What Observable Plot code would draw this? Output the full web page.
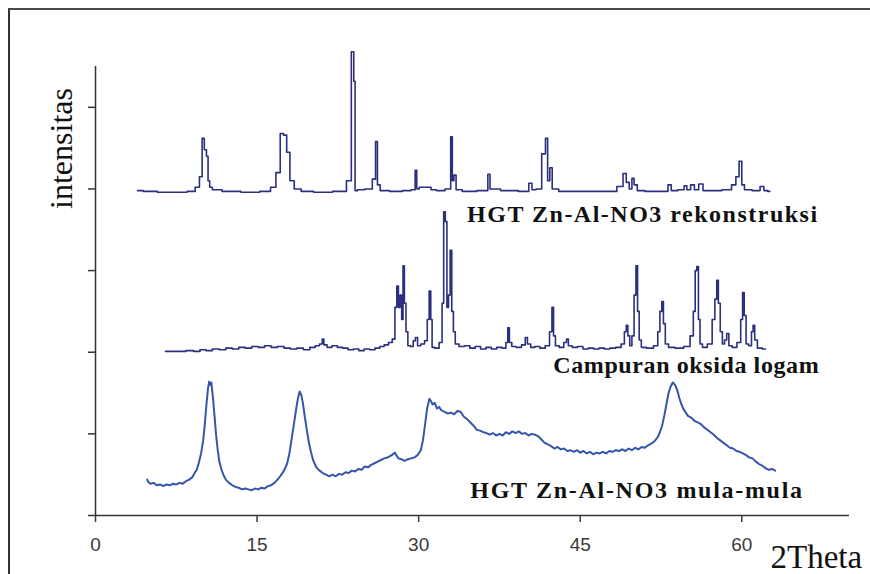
<!DOCTYPE html>
<html>
<head>
<meta charset="utf-8">
<script src="https://cdn.jsdelivr.net/npm/d3@7"></script>
<script src="https://cdn.jsdelivr.net/npm/@observablehq/plot@0.6"></script>
<style>
  html, body { margin: 0; padding: 0; background: #fff; }
  #wrap { position: relative; width: 870px; height: 574px; overflow: hidden; }
  #frame { position: absolute; left: 8px; top: 8px; right: -4px; bottom: -4px;
           border-top: 2px solid #4a4a4a; border-left: 2px solid #333; pointer-events: none; }
  #wrap svg { position: absolute; left: 0; top: 0; }
</style>
</head>
<body>
<div id="wrap"><div id="frame"></div></div>
<script>
// x ticks (2Theta) and y ticks (intensitas, unlabeled)
const xTicks = [0, 15, 30, 45, 60];
const yTicks = [0, 1, 2, 3, 4, 5];

// HGT Zn-Al-NO3 rekonstruksi  [2theta, intensity]
const rekonstruksi = [
  [3.9,3.98],[5.0,3.97],[6.5,3.96],[8.0,3.96],[9.0,3.97],[9.5,4.02],[9.8,4.15],[10.0,4.62],[10.2,4.48],
  [10.4,4.40],[10.5,4.10],[10.7,4.02],[11.0,3.99],[12.5,3.97],[14.5,3.96],[16.0,3.97],[16.5,4.02],
  [17.0,4.20],[17.3,4.68],[17.6,4.66],[17.9,4.45],[18.2,4.10],[18.7,4.00],[19.5,3.97],[21.0,3.96],
  [23.0,3.97],[23.6,4.10],[23.9,5.68],[24.05,5.32],[24.15,3.98],[24.5,3.99],[25.5,4.00],[25.9,4.12],
  [26.1,4.58],[26.25,4.05],[26.6,3.98],[28.0,3.97],[29.0,3.98],[29.6,3.99],[29.75,4.23],[29.9,4.00],
  [30.2,4.02],[31.0,4.02],[31.3,3.99],[32.0,3.98],[32.9,4.00],[33.05,4.64],[33.2,4.10],[33.35,4.17],
  [33.6,3.99],[34.5,3.97],[36.3,3.98],[36.55,4.18],[36.7,4.00],[38.5,3.98],[40.0,3.97],[40.45,4.07],
  [40.6,3.99],[41.2,4.00],[41.65,4.43],[41.9,4.62],[42.05,4.10],[42.3,4.26],[42.5,4.00],[43.5,3.97],
  [48.0,3.97],[48.8,4.03],[49.15,4.19],[49.4,4.08],[49.7,4.00],[49.9,4.13],[50.1,4.05],[50.5,3.98],
  [51.5,3.97],[53.0,3.97],[53.3,4.05],[53.6,3.98],[54.5,3.99],[54.8,4.04],[55.0,3.99],[55.5,4.05],
  [55.7,3.99],[56.3,4.06],[56.5,3.98],[57.5,3.98],[58.8,3.99],[59.3,4.05],[59.6,4.15],[59.9,4.34],
  [60.1,4.05],[60.4,3.99],[61.5,3.98],[61.9,4.03],[62.2,3.98],[62.6,3.97]
];

// Campuran oksida logam
const campuran = [
  [6.5,2.01],[8.0,2.01],[8.8,2.02],[9.4,2.01],[10.0,2.03],[10.5,2.02],[11.2,2.04],[11.8,2.03],[12.4,2.05],
  [13.0,2.04],[13.6,2.06],[14.2,2.05],[14.8,2.07],[15.4,2.06],[16.0,2.08],[16.6,2.06],[17.2,2.07],
  [17.8,2.05],[18.4,2.04],[19.0,2.05],[19.6,2.03],[20.2,2.06],[20.6,2.08],[21.0,2.10],[21.1,2.16],
  [21.3,2.09],[21.7,2.06],[22.2,2.08],[22.7,2.06],[23.2,2.05],[23.7,2.03],[24.2,2.04],[24.7,2.02],
  [25.2,2.04],[25.7,2.03],[26.2,2.05],[26.6,2.07],[27.0,2.09],[27.4,2.12],[27.7,2.16],[27.9,2.55],
  [28.05,2.81],[28.2,2.55],[28.35,2.70],[28.5,2.40],[28.6,3.06],[28.75,2.60],[28.9,2.25],[29.1,2.08],
  [29.4,2.07],[29.6,2.14],[29.8,2.18],[30.0,2.08],[30.4,2.10],[30.7,2.14],[30.9,2.40],[31.05,2.75],
  [31.2,2.40],[31.3,2.06],[31.7,2.05],[32.1,2.12],[32.25,2.60],[32.4,3.72],[32.55,3.60],[32.7,2.55],
  [32.85,2.70],[33.0,3.25],[33.15,2.50],[33.3,2.25],[33.5,2.10],[34.0,2.07],[34.5,2.08],[35.0,2.05],
  [35.5,2.07],[36.0,2.04],[36.5,2.06],[37.0,2.04],[37.5,2.06],[38.0,2.05],[38.2,2.12],[38.35,2.30],
  [38.5,2.12],[38.8,2.07],[39.3,2.06],[39.8,2.09],[40.0,2.18],[40.2,2.10],[40.6,2.06],[41.0,2.07],
  [41.5,2.05],[42.0,2.08],[42.3,2.25],[42.45,2.55],[42.6,2.20],[42.8,2.08],[43.3,2.06],[43.65,2.12],
  [43.8,2.16],[44.0,2.08],[44.5,2.06],[45.0,2.07],[45.5,2.04],[46.0,2.05],[46.5,2.04],[47.0,2.05],
  [47.5,2.04],[48.0,2.05],[48.6,2.06],[49.0,2.10],[49.2,2.25],[49.35,2.33],[49.5,2.20],[49.7,2.08],
  [49.9,2.20],[50.1,2.70],[50.25,3.06],[50.4,2.50],[50.55,2.15],[50.8,2.06],[51.5,2.05],[52.1,2.08],
  [52.3,2.25],[52.5,2.50],[52.65,2.62],[52.8,2.35],[53.0,2.10],[53.4,2.06],[54.2,2.05],[55.0,2.07],
  [55.4,2.20],[55.6,2.50],[55.75,3.00],[55.9,3.05],[56.05,2.40],[56.2,2.10],[56.5,2.06],[57.1,2.10],
  [57.4,2.40],[57.6,2.65],[57.75,2.88],[57.9,2.60],[58.1,2.25],[58.3,2.10],[58.5,2.15],[58.7,2.23],
  [58.9,2.08],[59.3,2.06],[59.8,2.12],[60.0,2.40],[60.15,2.73],[60.3,2.45],[60.5,2.10],[60.8,2.08],
  [61.0,2.25],[61.1,2.33],[61.3,2.15],[61.6,2.05],[62.2,2.04]
];

// HGT Zn-Al-NO3 mula-mula
const mulaMula = [
  [4.8,0.44],[4.9,0.41],[5.1,0.39],[5.4,0.40],[5.7,0.37],[6.0,0.38],[6.3,0.36],[6.6,0.38],[6.9,0.37],
  [7.2,0.39],[7.5,0.38],[7.8,0.40],[8.1,0.39],[8.4,0.42],[8.7,0.44],[9.0,0.47],[9.2,0.52],[9.4,0.56],
  [9.6,0.65],[9.8,0.76],[10.0,0.92],[10.15,1.12],[10.3,1.36],[10.45,1.56],[10.55,1.64],[10.65,1.60],
  [10.75,1.63],[10.9,1.45],[11.05,1.22],[11.2,0.98],[11.35,0.80],[11.5,0.66],[11.7,0.56],[11.9,0.49],
  [12.1,0.44],[12.4,0.40],[12.7,0.37],[13.0,0.35],[13.3,0.34],[13.6,0.32],[13.9,0.33],[14.2,0.32],
  [14.5,0.31],[14.8,0.33],[15.1,0.32],[15.4,0.34],[15.7,0.33],[16.0,0.36],[16.3,0.37],[16.6,0.40],
  [16.9,0.44],[17.2,0.49],[17.5,0.55],[17.8,0.64],[18.0,0.76],[18.2,0.93],[18.4,1.10],[18.6,1.28],
  [18.8,1.44],[18.95,1.52],[19.1,1.48],[19.25,1.38],[19.4,1.24],[19.6,1.06],[19.8,0.90],[20.0,0.78],
  [20.2,0.68],[20.5,0.59],[20.8,0.55],[21.1,0.52],[21.4,0.50],[21.7,0.48],[22.0,0.50],[22.3,0.48],
  [22.6,0.51],[22.9,0.50],[23.2,0.53],[23.5,0.52],[23.8,0.55],[24.1,0.54],[24.4,0.57],[24.7,0.56],
  [25.0,0.60],[25.3,0.59],[25.6,0.62],[25.9,0.64],[26.2,0.66],[26.5,0.68],[26.8,0.70],[27.1,0.71],
  [27.5,0.74],[27.8,0.77],[28.1,0.70],[28.4,0.69],[28.7,0.67],[29.0,0.69],[29.3,0.70],[29.6,0.71],
  [29.9,0.74],[30.2,0.80],[30.4,0.92],[30.6,1.12],[30.8,1.32],[31.0,1.43],[31.15,1.40],[31.3,1.36],
  [31.5,1.38],[31.7,1.31],[31.9,1.33],[32.1,1.29],[32.4,1.27],[32.7,1.25],[33.0,1.26],[33.3,1.24],
  [33.6,1.28],[33.9,1.27],[34.2,1.21],[34.5,1.18],[34.8,1.14],[35.1,1.10],[35.4,1.05],[35.7,1.04],
  [36.0,1.02],[36.3,1.01],[36.6,0.99],[36.9,1.01],[37.2,0.98],[37.5,1.00],[37.8,0.98],[38.1,1.02],
  [38.4,1.00],[38.7,1.03],[39.0,1.01],[39.3,1.03],[39.6,1.00],[39.9,1.01],[40.2,0.98],[40.5,1.00],
  [40.8,0.99],[41.1,0.97],[41.4,0.93],[41.7,0.89],[42.0,0.87],[42.3,0.85],[42.6,0.82],[42.9,0.84],
  [43.2,0.81],[43.5,0.82],[43.8,0.79],[44.1,0.80],[44.4,0.78],[44.7,0.80],[45.0,0.77],[45.3,0.79],
  [45.6,0.76],[45.9,0.78],[46.2,0.75],[46.5,0.77],[46.8,0.76],[47.1,0.78],[47.4,0.76],[47.7,0.79],
  [48.0,0.78],[48.3,0.80],[48.6,0.79],[48.9,0.81],[49.2,0.79],[49.5,0.82],[49.8,0.80],[50.1,0.83],
  [50.4,0.81],[50.7,0.84],[51.0,0.83],[51.3,0.86],[51.6,0.88],[51.9,0.91],[52.2,0.96],[52.4,1.02],
  [52.6,1.10],[52.8,1.22],[53.0,1.36],[53.2,1.50],[53.4,1.58],[53.6,1.63],[53.8,1.60],[54.0,1.54],
  [54.2,1.44],[54.4,1.36],[54.6,1.30],[54.8,1.26],[55.0,1.22],[55.3,1.20],[55.6,1.16],[55.9,1.14],
  [56.2,1.12],[56.5,1.08],[56.8,1.05],[57.1,1.02],[57.4,0.99],[57.7,0.95],[58.0,0.92],[58.3,0.89],
  [58.6,0.86],[58.9,0.83],[59.2,0.82],[59.5,0.79],[59.8,0.78],[60.1,0.76],[60.4,0.74],[60.7,0.71],
  [61.0,0.70],[61.3,0.66],[61.6,0.63],[61.9,0.61],[62.2,0.58],[62.5,0.56],[62.8,0.57],[63.1,0.55]
];

// series labels: [x, y, text]
const seriesLabels = [
  [34.5, 3.60, "HGT Zn-Al-NO3 rekonstruksi"],
  [42.5, 1.74, "Campuran oksida logam"],
  [34.8, 0.22, "HGT Zn-Al-NO3 mula-mula"]
];
const labelSpacing = ["1.5px", "0.6px", "1.7px"];

const serif = "'Liberation Serif', 'Times New Roman', serif";
const axisColor = "#333";

const chart = Plot.plot({
  width: 870,
  height: 574,
  marginLeft: 95,
  marginRight: 21,
  marginTop: 66,
  marginBottom: 59,
  style: { background: "transparent", overflow: "visible" },
  x: { domain: [0, 70] },
  y: { domain: [0, 5.5] },
  marks: [
    Plot.ruleY([0], { stroke: axisColor, strokeWidth: 1.5 }),
    Plot.ruleX([0], { y1: 0, y2: 5.5, stroke: axisColor, strokeWidth: 1.5 }),
    Plot.axisX({ ticks: xTicks, tickSize: 7, tickPadding: 15, fontSize: 19,
      fontFamily: "'Liberation Sans', Arial, sans-serif", color: "#3a3a3a", label: null, strokeWidth: 1.5 }),
    Plot.axisY({ ticks: yTicks, tickSize: 7, tickFormat: () => "", label: null, color: axisColor, strokeWidth: 1.5 }),
    Plot.line(rekonstruksi, { x: d => d[0], y: d => d[1], stroke: "#2b2f7e", strokeWidth: 1.6, curve: "step" }),
    Plot.line(campuran, { x: d => d[0], y: d => d[1], stroke: "#2b2f7e", strokeWidth: 1.6, curve: "step" }),
    Plot.line(mulaMula, { x: d => d[0], y: d => d[1], stroke: "#3556a8", strokeWidth: 2 }),
    Plot.text(seriesLabels, { x: d => d[0], y: d => d[1], text: d => d[2],
      textAnchor: "start", lineAnchor: "bottom",
      fontSize: 24, fontWeight: "bold", fontFamily: serif, fill: "#111" }),
    Plot.text(["intensitas"], { text: d => d, frameAnchor: "top-left", dx: -24, dy: 82, rotate: -90,
      textAnchor: "middle", lineAnchor: "bottom", fontSize: 32, fontFamily: serif, fill: "#111" }),
    Plot.text(["2Theta"], { text: d => d, frameAnchor: "bottom-right", dx: -79, dy: 52,
      textAnchor: "start", lineAnchor: "bottom", fontSize: 33, fontFamily: serif, fill: "#111" })
  ]
});

// apply the wide letter spacing of the series labels
d3.select(chart).selectAll("text").each(function () {
  const i = seriesLabels.findIndex(l => l[2] === this.textContent);
  if (i >= 0) this.style.letterSpacing = labelSpacing[i];
});

document.getElementById("wrap").prepend(chart);
</script>
</body>
</html>
